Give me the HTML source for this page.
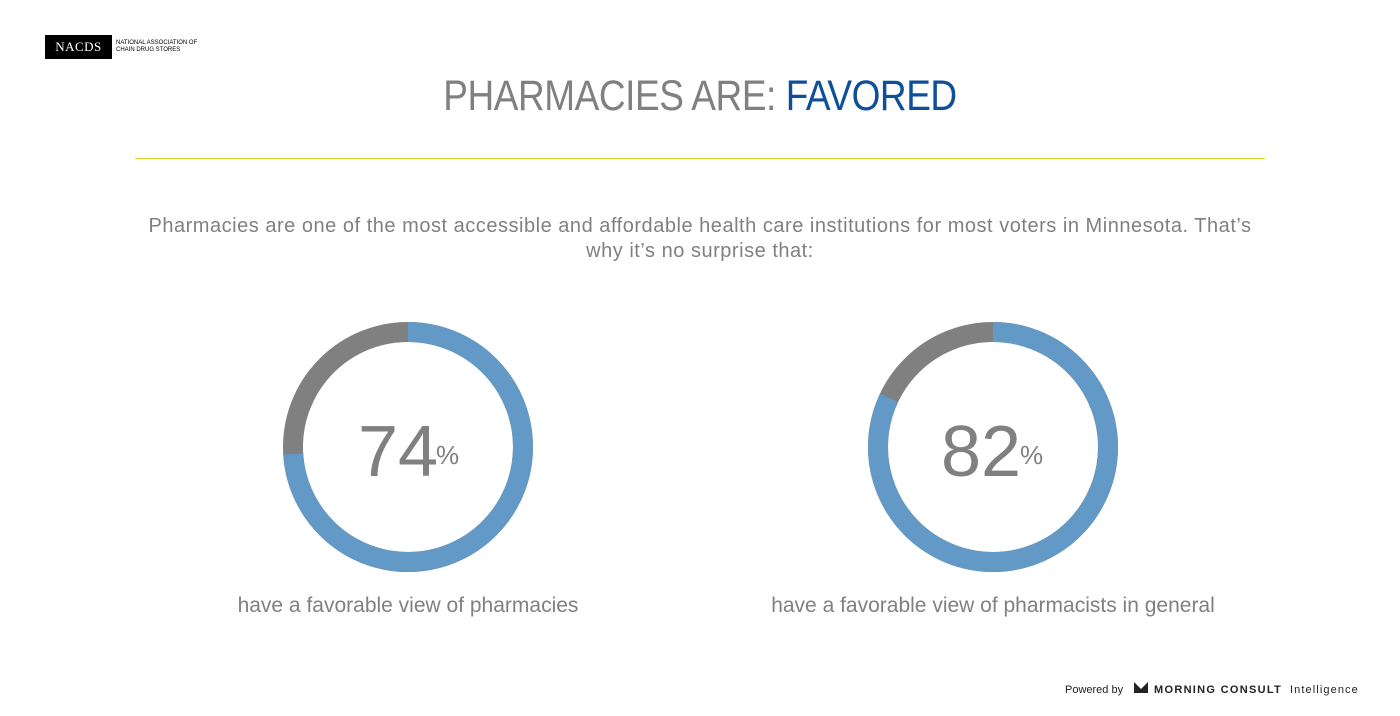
<!DOCTYPE html>
<html><head><meta charset="utf-8"><style>
body{margin:0;width:1400px;height:716px;background:#fff;font-family:"Liberation Sans",sans-serif;position:relative;overflow:hidden}
.a{position:absolute}
</style></head><body>
<div class="a" style="left:45px;top:35px;width:67px;height:24px;background:#000;color:#fff;font-family:'Liberation Serif',serif;font-size:13px;line-height:24px;text-align:center;letter-spacing:0.5px">NACDS</div>
<div class="a" style="left:116px;top:40px;font-size:6px;line-height:7px;color:#000">NATIONAL ASSOCIATION OF<br>CHAIN DRUG STORES</div>
<div class="a" style="left:0;width:1400px;top:72px;text-align:center;font-size:43px;color:#808080;letter-spacing:-0.5px;transform:scaleX(0.86)">PHARMACIES ARE: <span style="color:#0e4f99">FAVORED</span></div>
<div class="a" style="left:50px;width:1300px;top:214px;text-align:center;font-size:20px;line-height:25px;color:#808080;letter-spacing:0.52px">Pharmacies are one of the most accessible and affordable health care institutions for most voters in Minnesota. That’s<br>why it’s no surprise that:</div>
<div class="a" style="left:135px;top:158px;width:1130px;height:1px;background:#d4d82a"></div>
<svg class="a" style="left:0;top:0" width="1400" height="716">
<g transform="rotate(-90 408 447)">
<circle cx="408" cy="447" r="115" fill="none" stroke="#808080" stroke-width="20"/>
<circle cx="408" cy="447" r="115" fill="none" stroke="#6399c6" stroke-width="20" stroke-dasharray="534.7 722.6"/>
</g>
<g transform="rotate(-90 993 447)">
<circle cx="993" cy="447" r="115" fill="none" stroke="#808080" stroke-width="20"/>
<circle cx="993" cy="447" r="115" fill="none" stroke="#6399c6" stroke-width="20" stroke-dasharray="592.5 722.6"/>
</g>
<text x="398" y="476" text-anchor="middle" font-family="Liberation Sans" font-size="72" fill="#808080">74</text>
<text x="436" y="464" font-family="Liberation Sans" font-size="26" fill="#808080">%</text>
<text x="981" y="476" text-anchor="middle" font-family="Liberation Sans" font-size="72" fill="#808080">82</text>
<text x="1020" y="464" font-family="Liberation Sans" font-size="26" fill="#808080">%</text>
<text x="408" y="612" text-anchor="middle" font-family="Liberation Sans" font-size="21" fill="#808080">have a favorable view of pharmacies</text>
<text x="993" y="612" text-anchor="middle" font-family="Liberation Sans" font-size="21" fill="#808080">have a favorable view of pharmacists in general</text>
<text x="1065" y="693" font-family="Liberation Sans" font-size="11" fill="#222">Powered by</text>
<path d="M1134 682 l7 7 l7 -7 v11 h-14z" fill="#222"/>
<text x="1154" y="693" font-family="Liberation Sans" font-size="11" font-weight="bold" fill="#222" letter-spacing="1.3">MORNING CONSULT</text>
<text x="1290" y="693" font-family="Liberation Sans" font-size="11" fill="#222" letter-spacing="1.1">Intelligence</text>
</svg>
</body></html>
